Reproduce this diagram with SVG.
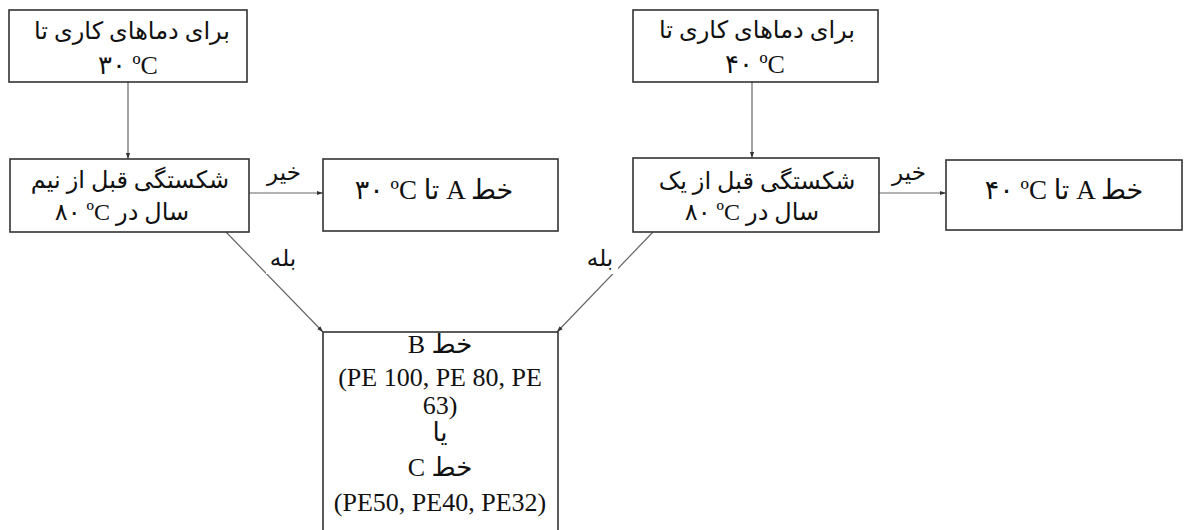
<svg xmlns="http://www.w3.org/2000/svg" width="1184" height="530" viewBox="0 0 1184 530">
<style>
.box{fill:#fff;stroke:#333;stroke-width:1.6}
.t{font-family:"Liberation Serif","DejaVu Sans",serif;font-size:24px;fill:#111;text-anchor:middle;direction:ltr}
.m{font-size:26px}
.lat{font-size:26px;unicode-bidi:bidi-override;direction:ltr}
.lbl{font-family:"Liberation Serif","DejaVu Sans",serif;font-size:23px;fill:#111;text-anchor:middle}
.c{stroke:#666;stroke-width:1.2;fill:none}
</style>
<defs>
<marker id="ah" viewBox="0 0 10 10" refX="10" refY="5" markerWidth="9" markerHeight="6" markerUnits="userSpaceOnUse" orient="auto">
<path d="M0,1.5 L10,5 L0,8.5 z" fill="#333"/>
</marker>
</defs>
<rect width="1184" height="530" fill="#fff"/>
<g id="connectors">
<line class="c" x1="128" y1="82" x2="128" y2="159" marker-end="url(#ah)"/>
<line class="c" x1="752" y1="82" x2="752" y2="158" marker-end="url(#ah)"/>
<line class="c" x1="249" y1="193" x2="323" y2="193" marker-end="url(#ah)"/>
<line class="c" x1="879" y1="193" x2="946" y2="193" marker-end="url(#ah)"/>
<line class="c" x1="226" y1="232" x2="323" y2="332" marker-end="url(#ah)"/>
<line class="c" x1="653" y1="232" x2="557" y2="332" marker-end="url(#ah)"/>
<rect x="266" y="248" width="34" height="26" fill="#fff"/>
<rect x="582" y="248" width="36" height="26" fill="#fff"/>
<text class="lbl" x="284" y="180">خیر</text>
<text class="lbl" x="909" y="180">خیر</text>
<text class="lbl" x="283" y="266">بله</text>
<text class="lbl" x="600" y="266">بله</text>
</g>
<g id="n1">
<rect class="box" x="9" y="10" width="238" height="72"/>
<text class="t" x="132" y="39">برای دماهای کاری تا</text>
<text class="t m" x="128" y="74">۳۰ ºC</text>
</g>
<g id="n2">
<rect class="box" x="10" y="159" width="239" height="73"/>
<text class="t" x="130" y="188">شکستگی قبل از نیم</text>
<text class="t" x="122" y="220">۸۰ ºC سال در</text>
</g>
<g id="n3">
<rect class="box" x="323" y="159" width="235" height="72"/>
<text class="t" x="434" y="199" style="font-size:27px">۳۰ ºC تا A خط</text>
</g>
<g id="n4">
<rect class="box" x="633" y="10" width="245" height="72"/>
<text class="t" x="757" y="38">برای دماهای کاری تا</text>
<text class="t m" x="755" y="73">۴۰ ºC</text>
</g>
<g id="n5">
<rect class="box" x="633" y="158" width="246" height="74"/>
<text class="t" x="757" y="189">شکستگی قبل از یک</text>
<text class="t" x="752" y="220">۸۰ ºC سال در</text>
</g>
<g id="n6">
<rect class="box" x="946" y="160" width="236" height="70"/>
<text class="t" x="1064" y="199" style="font-size:27px">۴۰ ºC تا A خط</text>
</g>
<g id="n7">
<rect class="box" x="323" y="332" width="235" height="210"/>
<text class="t m" x="440" y="353">B خط</text>
<text class="t lat" x="440" y="386">(PE 100, PE 80, PE</text>
<text class="t lat" x="440" y="414">63)</text>
<text class="t m" x="440" y="441">یا</text>
<text class="t m" x="440" y="476">C خط</text>
<text class="t lat" x="440" y="511">(PE50, PE40, PE32)</text>
</g>
</svg>
